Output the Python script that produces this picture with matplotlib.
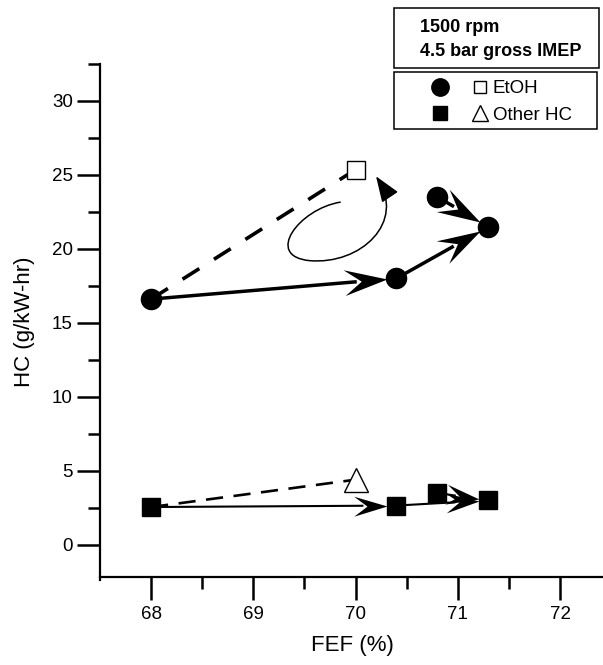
import matplotlib
matplotlib.use("Agg")
import matplotlib.pyplot as plt
import numpy as np
from matplotlib.lines import Line2D
from matplotlib.patches import Rectangle, FancyArrowPatch
from matplotlib.path import Path
from matplotlib.markers import MarkerStyle
from matplotlib.transforms import Affine2D
from matplotlib.legend_handler import HandlerTuple

plt.rcParams["font.family"] = ["Liberation Sans", "DejaVu Sans"]

# FEF (%) and HC (g/kW-hr)
etoh_fef = [68.0, 70.4, 71.3, 70.8]
etoh_hc = [16.6, 18.0, 21.5, 23.5]
other_fef = [68.0, 70.4, 71.3, 70.8]
other_hc = [2.55, 2.65, 3.0, 3.5]
# open markers (reference case)
etoh_ref = (70.0, 25.35)
other_ref = (70.0, 4.4)
# arrows as (from index, to index)
arrow_pairs = [(0, 1), (1, 2), (3, 2)]

W, H = 603, 665
fig = plt.figure(figsize=(W / 100, H / 100), dpi=100)
ax = fig.add_axes([100 / W, 84.7 / H, 504 / W, 516.5 / H])
ax.set_xlim(67.5, 72.43)
ax.set_ylim(-2.4, 32.5)

# notched arrow head, tip at origin pointing +x
head_path = Path([(0, 0), (-1, 0.3), (-0.6, 0), (-1, -0.3), (0, 0)],
                 [Path.MOVETO, Path.LINETO, Path.LINETO, Path.LINETO, Path.CLOSEPOLY])


def head_arrow(x0, y0, x1, y1, lw, head_pt, shrink_pt):
    p0 = ax.transData.transform((x0, y0))
    p1 = ax.transData.transform((x1, y1))
    u = (p1 - p0) / np.hypot(*(p1 - p0))
    px = fig.dpi / 72
    tip = p1 - u * shrink_pt * px
    base = tip - u * head_pt * 0.7 * px
    inv = ax.transData.inverted()
    tx, ty = inv.transform(tip)
    bx, by = inv.transform(base)
    ax.plot([x0, bx], [y0, by], color="black", lw=lw, solid_capstyle="butt", zorder=3)
    angle = np.degrees(np.arctan2(u[1], u[0]))
    m = MarkerStyle(head_path, transform=Affine2D().rotate_deg(angle))
    ax.plot(tx, ty, marker=m, ms=2 * head_pt, color="black", mew=0, ls="none", zorder=3)


# dashed lines to the open markers
ax.plot([etoh_fef[0], etoh_ref[0]], [etoh_hc[0], etoh_ref[1]], color="black",
        lw=2.6, dashes=(5.5, 4.8), zorder=2)
ax.plot([other_fef[0], other_ref[0]], [other_hc[0], other_ref[1]], color="black",
        lw=1.9, dashes=(6.5, 4.0), zorder=2)

# solid arrows between points
for i, j in arrow_pairs:
    head_arrow(etoh_fef[i], etoh_hc[i], etoh_fef[j], etoh_hc[j], 2.5, 31, 7)
    head_arrow(other_fef[i], other_hc[i], other_fef[j], other_hc[j], 1.5, 24, 7)

# curly arrow
verts = [(69.85, 23.15), (69.45, 22.7), (69.1, 19.5), (69.55, 19.2),
         (70.05, 18.9), (70.5, 21.8), (70.2, 24.9)]
codes = [Path.MOVETO, Path.CURVE4, Path.CURVE4, Path.CURVE4,
         Path.CURVE4, Path.CURVE4, Path.CURVE4]
curl = FancyArrowPatch(path=Path(verts, codes),
                       arrowstyle="-|>,head_length=0.8,head_width=0.3",
                       mutation_scale=20, lw=1.1, color="black", zorder=3)
ax.add_patch(curl)

# markers
ax.plot(etoh_fef, etoh_hc, "o", color="black", ms=14.5, ls="none", zorder=4)
ax.plot(other_fef, other_hc, "s", color="black", ms=13.5, ls="none", zorder=4)
ax.plot(*etoh_ref, "s", mfc="white", mec="black", mew=1.0, ms=13, zorder=4)
ax.plot(*other_ref, "^", mfc="white", mec="black", mew=1.0, ms=17, zorder=4)

ax.set_xticks([68, 69, 70, 71, 72])
ax.set_xticks([68.5, 69.5, 70.5, 71.5], minor=True)
ax.set_yticks(range(0, 31, 5))
ax.set_yticks([2.5, 7.5, 12.5, 17.5, 22.5, 27.5, 32.5], minor=True)
ax.spines["top"].set_visible(False)
ax.spines["right"].set_visible(False)
ax.spines["bottom"].set_position(("data", -2.15))
for s in ("left", "bottom"):
    ax.spines[s].set_linewidth(1.6)
ax.tick_params(which="major", direction="out", length=16.5, width=1.8, labelsize=13.5)
ax.tick_params(which="minor", direction="out", length=8.5, width=1.8)
ax.tick_params(axis="x", which="major", pad=4.5)
ax.tick_params(axis="y", which="major", pad=3)
ax.set_xlabel("FEF (%)", fontsize=16, labelpad=9)
ax.set_ylabel("HC (g/kW-hr)", fontsize=16, labelpad=12)

# info box
fig.patches.append(Rectangle((394 / W, 1 - 68 / H), 205 / W, 60 / H, transform=fig.transFigure,
                             fill=False, ec="black", lw=1.1))
fig.text(420 / W, 1 - 28 / H, "1500 rpm", fontsize=13, fontweight="bold", va="center")
fig.text(420 / W, 1 - 51 / H, "4.5 bar gross IMEP", fontsize=13, fontweight="bold", va="center")

# legend box
fig.patches.append(Rectangle((394 / W, 1 - 129 / H), 203 / W, 57 / H, transform=fig.transFigure,
                             fill=False, ec="black", lw=1.1))
h_circ = Line2D([], [], marker="o", color="black", ls="none", ms=12.5)
h_osq = Line2D([], [], marker="s", mfc="white", mec="black", mew=1.0, ls="none", ms=9)
h_fsq = Line2D([], [], marker="s", color="black", ls="none", ms=9.5)
h_tri = Line2D([], [], marker="^", mfc="white", mec="black", mew=1.0, ls="none", ms=11)
fig.legend([(h_circ, h_osq), (h_fsq, h_tri)], ["EtOH", "Other HC"],
           handler_map={tuple: HandlerTuple(ndivide=None, pad=1.067)},
           loc="upper left", bbox_to_anchor=(430 / W, 1 - 80 / H), frameon=False,
           fontsize=13.5, handlelength=3.2, handletextpad=0.15, labelspacing=0.5,
           borderpad=0, borderaxespad=0)

fig.savefig("out.png", dpi=100)
